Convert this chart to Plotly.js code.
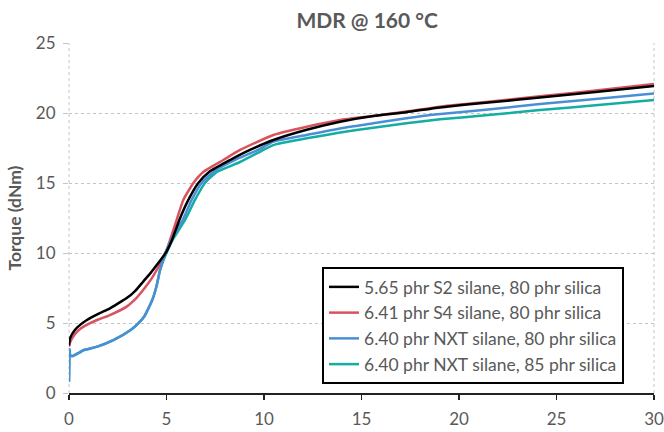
<!DOCTYPE html>
<html>
<head>
<meta charset="utf-8">
<script src="https://cdn.plot.ly/plotly-3.0.1.min.js"></script>
<style>html,body{margin:0;padding:0;background:#fff;}#chart{width:664px;height:432px;}</style>
</head>
<body>
<div id="chart"></div>
<script>
// Series names
const seriesNames = [
  "5.65 phr S2 silane, 80 phr silica",
  "6.41 phr S4 silane, 80 phr silica",
  "6.40 phr NXT silane, 80 phr silica",
  "6.40 phr NXT silane, 85 phr silica"
];

// Time (min) and torque (dNm)
const s2Time   = [0, 0.05, 0.3, 0.6, 0.9, 1.5, 2.1, 2.5, 2.96, 3.4, 3.8, 4.2, 4.5, 4.8, 5.0, 5.3, 5.66, 6.12, 6.63, 7.2, 8.26, 9.28, 10.48, 12.19, 13.9, 15.6, 17.3, 19.03, 21.5, 24.15, 27, 30];
const s2Torque = [3.4, 3.9, 4.5, 4.9, 5.2, 5.65, 6.05, 6.38, 6.78, 7.3, 7.95, 8.6, 9.14, 9.7, 10.1, 11.0, 12.36, 13.79, 15.0, 15.8, 16.64, 17.36, 18.07, 18.8, 19.38, 19.79, 20.06, 20.4, 20.75, 21.1, 21.5, 21.93];

const s4Time   = [0, 0.05, 0.3, 0.6, 0.9, 1.5, 2.1, 2.96, 3.4, 3.8, 4.2, 4.5, 4.8, 5.0, 5.2, 5.52, 5.86, 6.38, 6.9, 7.91, 8.77, 10.48, 12.19, 13.9, 15.6, 17.3, 19.03, 21.5, 24.15, 27, 30];
const s4Torque = [3.3, 3.6, 4.2, 4.6, 4.86, 5.25, 5.57, 6.17, 6.7, 7.36, 8.1, 8.8, 9.6, 10.2, 11.0, 12.36, 13.79, 15.0, 15.8, 16.64, 17.36, 18.43, 19.02, 19.5, 19.79, 20.1, 20.45, 20.8, 21.2, 21.6, 22.07];

const nxt80Time   = [0, 0.03, 0.06, 0.17, 0.77, 1.45, 2.3, 3.16, 3.5, 3.85, 4.27, 4.5, 4.67, 4.85, 5.0, 5.3, 5.83, 6.29, 6.8, 7.5, 8.5, 9.7, 10.48, 12.19, 13.9, 15.6, 17.3, 18.5, 21.5, 24.15, 27, 30];
const nxt80Torque = [0.8, 3.1, 2.7, 2.64, 3.07, 3.31, 3.79, 4.5, 4.9, 5.45, 6.64, 7.7, 8.79, 9.6, 10.2, 11.1, 12.36, 13.79, 15.0, 15.9, 16.64, 17.36, 17.95, 18.43, 18.9, 19.26, 19.62, 19.86, 20.25, 20.64, 21.0, 21.4];

const nxt85Time   = [0, 0.03, 0.06, 0.17, 0.77, 1.45, 2.3, 3.16, 3.5, 3.85, 4.27, 4.5, 4.67, 4.85, 5.0, 5.3, 5.95, 6.46, 6.97, 7.6, 8.77, 9.88, 10.48, 12.19, 13.9, 15.6, 17.3, 19.03, 21.5, 24.15, 27, 30];
const nxt85Torque = [0.8, 3.1, 2.7, 2.64, 3.07, 3.31, 3.79, 4.5, 4.9, 5.45, 6.64, 7.7, 8.79, 9.5, 10.0, 10.9, 12.36, 13.79, 15.0, 15.8, 16.5, 17.3, 17.71, 18.19, 18.6, 18.95, 19.26, 19.55, 19.85, 20.21, 20.55, 20.93];

const seriesColors = ["#000000", "#d9535f", "#4a8fd6", "#14ada2"];

const xTicks = [0, 5, 10, 15, 20, 25, 30];
const yTicks = [0, 5, 10, 15, 20, 25];

const textColor = "#595959";
const fontFam = "Lato, 'Open Sans', sans-serif";

function mk(x, y, i, rank) {
  return {
    x: x, y: y, type: "scatter", mode: "lines",
    name: seriesNames[i], legendrank: rank,
    line: {color: seriesColors[i], width: 2.5, shape: "spline", smoothing: 0.5}
  };
}

const traces = [
  mk(nxt85Time, nxt85Torque, 3, 4),
  mk(s4Time, s4Torque, 1, 2),
  mk(nxt80Time, nxt80Torque, 2, 3),
  mk(s2Time, s2Torque, 0, 1)
];

const layout = {
  width: 664, height: 432,
  margin: {l: 69, r: 10, t: 43, b: 39},
  paper_bgcolor: "#ffffff", plot_bgcolor: "#ffffff",
  font: {family: fontFam, color: textColor, size: 17},
  title: {
    text: "<b>MDR @ 160 °C</b>",
    font: {family: fontFam, size: 21, color: textColor},
    x: 0.553, xanchor: "center", y: 0.952, yanchor: "middle", yref: "container"
  },
  xaxis: {
    range: [0, 30], tickvals: xTicks, ticktext: xTicks.map(String),
    showgrid: false, zeroline: false,
    showline: true, linecolor: "#222222", linewidth: 1.5,
    ticks: "outside", ticklen: 5, tickcolor: "#222222", tickwidth: 1.5,
    ticklabelstandoff: 5,
    tickfont: {family: fontFam, size: 17, color: textColor}
  },
  yaxis: {
    range: [0, 25], tickvals: yTicks, ticktext: yTicks.map(String),
    showgrid: true, gridcolor: "#c4c4c4", griddash: "dot", gridwidth: 1,
    zeroline: false, showline: false,
    ticks: "outside", ticklen: 5, tickcolor: "#c4c4c4", tickwidth: 1,
    ticklabelstandoff: 4,
    tickfont: {family: fontFam, size: 17, color: textColor},
    title: {text: "<b>Torque (dNm)</b>", font: {family: fontFam, size: 17.5, color: textColor}, standoff: 9}
  },
  shapes: [
    {type: "line", xref: "paper", yref: "paper", x0: 0, x1: 0, y0: 0, y1: 1, line: {color: "#c4c4c4", width: 1, dash: "dot"}, layer: "below"},
    {type: "line", xref: "paper", yref: "paper", x0: 1, x1: 1, y0: 0, y1: 1, line: {color: "#c4c4c4", width: 1, dash: "dot"}, layer: "below"}
  ],
  showlegend: true,
  legend: {
    x: 0.4325, y: 0.36, xanchor: "left", yanchor: "top",
    bgcolor: "#ffffff", bordercolor: "#000000", borderwidth: 2,
    font: {family: fontFam, size: 17.5, color: textColor},
    traceorder: "normal"
  }
};

Plotly.newPlot("chart", traces, layout, {displayModeBar: false, staticPlot: true});
</script>
</body>
</html>
